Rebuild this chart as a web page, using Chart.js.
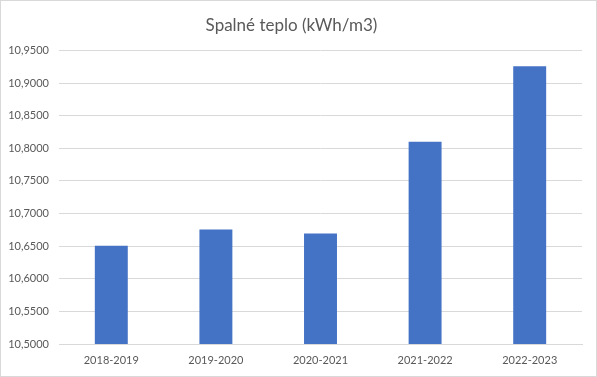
<!DOCTYPE html>
<html>
<head>
<meta charset="utf-8">
<script src="https://cdn.jsdelivr.net/npm/chart.js@4/dist/chart.umd.min.js"></script>
<style>
  html, body { margin: 0; padding: 0; background: #fff; }
  #wrap { width: 595px; height: 375px; border: 1px solid #d9d9d9; position: relative; }
</style>
</head>
<body>
<div id="wrap"><canvas id="chart"></canvas></div>
<script>
// Spalné teplo per heating season
const seasons = ["2018-2019", "2019-2020", "2020-2021", "2021-2022", "2022-2023"]
const heatValues = [10.6505, 10.6756, 10.6695, 10.8098, 10.9257]
const yMin = 10.5
const yMax = 10.95
const yStep = 0.05

const textColor = "#595959"
const gridColor = "#d9d9d9"

const ctx = document.getElementById("chart").getContext("2d")

new Chart(ctx, {
  type: "bar",
  data: {
    labels: seasons,
    datasets: [{
      data: heatValues,
      backgroundColor: "#4472C4",
      borderWidth: 0,
      barPercentage: 0.315,
      categoryPercentage: 1
    }]
  },
  options: {
    responsive: true,
    maintainAspectRatio: false,
    animation: false,
    layout: {
      padding: { left: 0, right: 14, top: 0, bottom: 0 }
    },
    plugins: {
      legend: { display: false },
      tooltip: { enabled: false },
      title: {
        display: true,
        text: "Spalné teplo (kWh/m3)",
        color: textColor,
        font: { family: "Lato", size: 17, weight: "normal" },
        padding: { top: 14, bottom: 15 }
      }
    },
    scales: {
      x: {
        grid: { display: false, drawTicks: false },
        border: { color: gridColor },
        ticks: {
          color: textColor,
          font: { family: "Lato", size: 11 },
          padding: 10
        },
        afterFit: (scale) => { scale.height = 32 }
      },
      y: {
        min: yMin,
        max: yMax,
        grid: { color: gridColor, drawTicks: false },
        border: { display: false },
        ticks: {
          stepSize: yStep,
          color: textColor,
          font: { family: "Lato", size: 11 },
          padding: 10,
          callback: (v) => Number(v).toFixed(4).replace(".", ",")
        },
        afterFit: (scale) => { scale.width = 58 }
      }
    }
  }
})
</script>
</body>
</html>
